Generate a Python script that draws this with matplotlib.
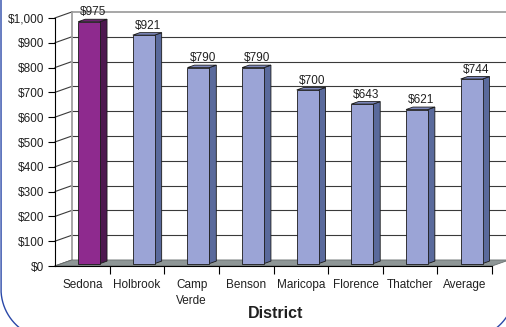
import matplotlib
matplotlib.use("Agg")
import matplotlib.pyplot as plt
import numpy as np
from matplotlib.patches import Polygon

plt.rcParams["font.family"] = ["Liberation Sans", "DejaVu Sans"]

# data
districts = ["Sedona", "Holbrook", "Camp\nVerde", "Benson", "Maricopa",
             "Florence", "Thatcher", "Average"]
costs = [975, 921, 790, 790, 700, 643, 621, 744]
y_ticks = list(range(0, 1001, 100))

# colours
PURPLE_FRONT = "#8e2a8e"
PURPLE_SIDE = "#4e1850"
PURPLE_TOP = "#6c2270"
BLUE_FRONT = "#9ba4d6"
BLUE_SIDE = "#5a6a9c"
BLUE_TOP = "#7d88bc"
FLOOR = "#8e9696"
GRID = "#3a3a3a"
WALL_EDGE = "#a0a0a0"
BORDER = "#2a48a8"

W, H = 506, 327
fig = plt.figure(figsize=(W / 100 + 0.001, H / 100 + 0.001), dpi=100,
                 facecolor="white")

# rounded blue frame, only the part that falls inside the image
over = fig.add_axes([0, 0, 1, 1], zorder=-1)
over.set_xlim(0, W)
over.set_ylim(H, 0)
over.axis("off")
R = 50
left, right, bottom = 1, 515, 339
a1 = np.linspace(np.pi, np.pi / 2, 300)
a2 = np.linspace(np.pi / 2, 0, 300)
fx = np.concatenate([np.full(300, left), left + R + R * np.cos(a1),
                     right - R + R * np.cos(a2)])
fy = np.concatenate([np.linspace(-5, bottom - R, 300), bottom - R + R * np.sin(a1),
                     bottom - R + R * np.sin(a2)])
outside = (fx > W + 1) | (fy > H + 1)
fx[outside] = np.nan
fy[outside] = np.nan
over.plot(fx, fy, color=BORDER, lw=1.0, clip_on=False)

# front plane of the 3D box
ax = fig.add_axes([55 / W, 61 / H, 437 / W, 248 / H])
ax.set_xlim(-0.5, len(districts) - 0.5)
ax.set_ylim(0, 1000)
ax.set_facecolor("none")

# depth offset (data units): 17 px right, 6 px up
DX = 17 / (437 / len(districts))
DY = 6 / 0.248
n = len(districts)
xl, xr = -0.5, n - 0.5
x_edge = xl + (W - 55) / (437 / n)   # right image edge in data units

# back wall grid lines + left wall diagonals
for v in y_ticks:
    col = WALL_EDGE if v == 1000 else GRID
    lw = 1.3 if v == 1000 else 0.8
    if v > 0:
        ax.plot([xl + DX, x_edge], [v + DY, v + DY], color=col, lw=lw,
                clip_on=False, zorder=1)
    ax.plot([xl, xl + DX], [v, v + DY], color=GRID, lw=0.8,
            clip_on=False, zorder=1)
ax.plot([xl + DX, xl + DX], [DY, 1000 + DY], color=WALL_EDGE, lw=1.3,
        clip_on=False, zorder=1)

# floor
floor = Polygon([(xl, 0), (xr, 0), (xr + DX, DY), (xl + DX, DY)],
                closed=True, facecolor=FLOOR, edgecolor="#6a7070", lw=0.6,
                clip_on=False, zorder=2)
ax.add_patch(floor)

# bars
F0 = 0.4      # depth fraction where bar front sits
D = 0.41      # bar depth as fraction of box depth
BW = 0.40
xs = [i + F0 * DX for i in range(n)]
fronts = [PURPLE_FRONT] + [BLUE_FRONT] * (n - 1)
sides = [PURPLE_SIDE] + [BLUE_SIDE] * (n - 1)
tops = [PURPLE_TOP] + [BLUE_TOP] * (n - 1)
bars = ax.bar(xs, costs, width=BW, bottom=F0 * DY, color=fronts,
              edgecolor="#1a1a1a", linewidth=0.6, zorder=4, clip_on=False)
for bar, v, sc, tc in zip(bars, costs, sides, tops):
    x0 = bar.get_x()
    x1 = x0 + bar.get_width()
    b = bar.get_y()
    t = b + bar.get_height()
    ddx, ddy = D * DX, D * DY
    side = Polygon([(x1, b), (x1 + ddx, b + ddy), (x1 + ddx, t + ddy), (x1, t)],
                   closed=True, facecolor=sc, edgecolor="#1a1a1a", lw=0.6,
                   zorder=3, clip_on=False)
    top = Polygon([(x0, t), (x1, t), (x1 + ddx, t + ddy), (x0 + ddx, t + ddy)],
                  closed=True, facecolor=tc, edgecolor="#1a1a1a", lw=0.6,
                  zorder=3, clip_on=False)
    ax.add_patch(side)
    ax.add_patch(top)
    ax.text((x0 + x1) / 2 + ddx * 0.6, t + ddy + 4, f"${v}",
            ha="center", va="bottom", fontsize=8.5, color="#202020",
            zorder=5, clip_on=False)

# axes styling
for s in ["top", "right"]:
    ax.spines[s].set_visible(False)
ax.spines["left"].set_color("black")
ax.spines["bottom"].set_color("black")
ax.spines["left"].set_zorder(6)
ax.spines["bottom"].set_zorder(6)
ax.set_yticks(y_ticks)
ax.set_yticklabels([f"${v:,}" for v in y_ticks])
ax.tick_params(axis="y", direction="out", length=5, width=0.8, pad=3,
               labelsize=8.5, colors="black")
ax.set_xticks(range(n))
ax.set_xticklabels(districts)
ax.tick_params(axis="x", which="major", length=0, pad=9, labelsize=8.5)
ax.set_xticks([i + 0.5 for i in range(n)], minor=True)
ax.tick_params(axis="x", which="minor", direction="out", length=6, width=0.8)
for lab in ax.get_xticklabels():
    lab.set_linespacing(1.5)
    lab.set_color("#202020")
for lab in ax.get_yticklabels():
    lab.set_color("#202020")

fig.text(276 / W, 1 - 318 / H, "District", ha="center", va="baseline",
         fontsize=11.5, fontweight="bold", color="#202020")

fig.savefig("out.png", dpi=100, facecolor="white")
